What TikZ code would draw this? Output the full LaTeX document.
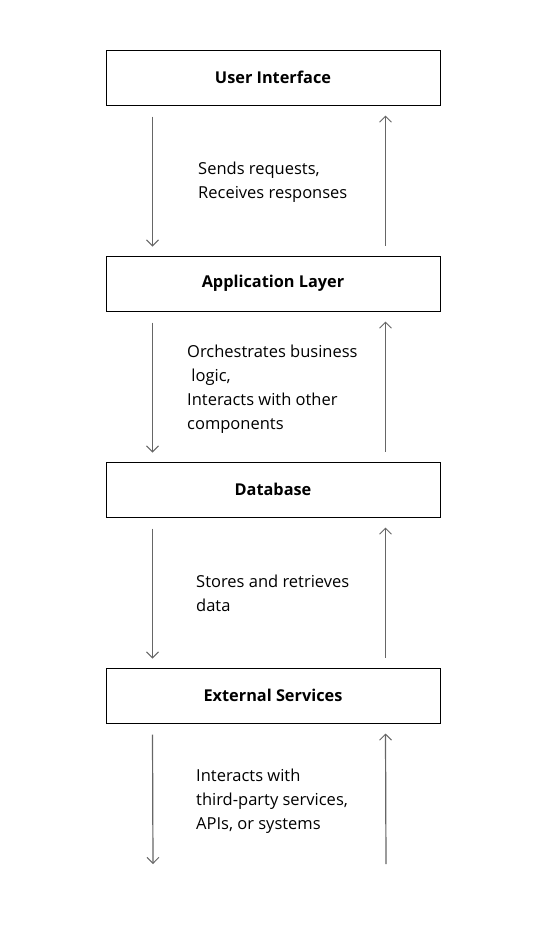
\documentclass[tikz,border=0pt]{standalone}
\usepackage{fontspec}
\setmainfont{Open Sans}
\usetikzlibrary{arrows.meta,calc}
\begin{document}
\begin{tikzpicture}[x=1pt,y=-1pt,
  layer/.style={draw=black,line width=1pt,minimum width=334pt,minimum height=55pt,inner sep=0pt,font=\fontsize{16.3}{20}\selectfont\bfseries},
  arr/.style={draw=black!60,line width=1.2pt,-{Straight Barb[length=6pt,width=12pt,line width=1pt]}},
  lbl/.style={anchor=base west,align=left,inner sep=0pt,font=\fontsize{16.5}{24}\selectfont}]
\useasboundingbox (0,0) rectangle (547,930);
\node[layer] (ui)  at (273,77.5)  {\raisebox{-1.5pt}{User Interface}};
\node[layer] (app) at (273,283.5) {\raisebox{-1.5pt}{Application Layer}};
\node[layer] (db)  at (273,489.5) {\raisebox{-1.5pt}{Database}};
\node[layer] (ext) at (273,695.5) {\raisebox{-1.5pt}{External Services}};
\coordinate (endd) at (153,864);
\coordinate (endu) at (386,864);
% pairs
\draw[arr] ($(ui.south west)+(47,11)$) -- ($(app.north west)+(47,-9)$);
\draw[arr] ($(app.north west)+(280,-10)$) -- ($(ui.south west)+(280,10)$);
\draw[arr] ($(app.south west)+(47,11)$) -- ($(db.north west)+(47,-9)$);
\draw[arr] ($(db.north west)+(280,-10)$) -- ($(app.south west)+(280,10)$);
\draw[arr] ($(db.south west)+(47,11)$) -- ($(ext.north west)+(47,-9)$);
\draw[arr] ($(ext.north west)+(280,-10)$) -- ($(db.south west)+(280,10)$);
\draw[arr] ($(ext.south west)+(47,11)$) -- (endd);
\draw[arr] (endu) -- ($(ext.south west)+(280,10)$);
\node[lbl] (t1) at (198,198) {Sends requests,\\Receives responses};
\node[lbl] (t2) at (187,429) {Orchestrates business\\ \ logic,\\Interacts with other\\components};
\node[lbl] (t3) at (196,611) {Stores and retrieves\\data};
\node[lbl] (t4) at (196,829) {Interacts with\\third-party services,\\APIs, or systems};
\end{tikzpicture}
\end{document}
